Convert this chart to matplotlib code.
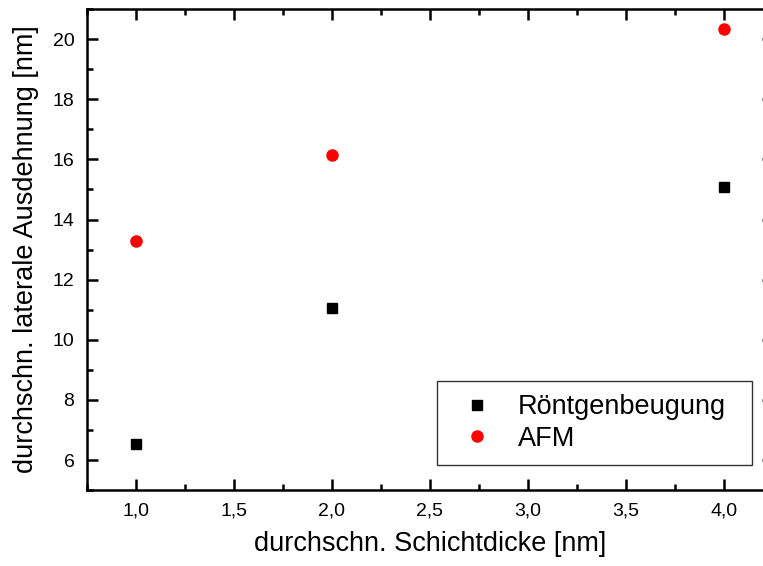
import matplotlib
matplotlib.use('Agg')
from matplotlib import pyplot as plt
from matplotlib.ticker import MultipleLocator, FuncFormatter

plt.rcParams['font.family'] = ['Liberation Sans', 'DejaVu Sans']

schichtdicke = [1.0, 2.0, 4.0]
roentgen = [6.52, 11.07, 15.08]
afm = [13.3, 16.14, 20.35]

fig = plt.figure(figsize=(7.63, 5.66), dpi=100)
# right edge of the axes lies outside the picture, like in the original
ax = fig.add_axes([0.114, 0.134, 0.899, 0.850])

ax.plot(schichtdicke, roentgen, 's', color='black', markersize=7.5, label='Röntgenbeugung')
ax.plot(schichtdicke, afm, 'o', color='red', markersize=8, label='AFM')

ax.set_xlim(0.75, 4.25)
ax.set_ylim(5, 21)
ax.xaxis.set_major_locator(MultipleLocator(0.5))
ax.xaxis.set_minor_locator(MultipleLocator(0.25))
ax.yaxis.set_major_locator(MultipleLocator(2))
ax.yaxis.set_minor_locator(MultipleLocator(1))
ax.xaxis.set_major_formatter(FuncFormatter(lambda v, p: ('%.1f' % v).replace('.', ',')))
ax.yaxis.set_major_formatter(FuncFormatter(lambda v, p: '%d' % v))

for s in ax.spines.values():
    s.set_linewidth(1.8)
ax.tick_params(which='both', direction='in', top=True, right=True, width=1.8, labelsize=14)
ax.tick_params(which='major', length=8, pad=9)
ax.tick_params(which='minor', length=4)

ax.set_xlabel('durchschn. Schichtdicke [nm]', fontsize=19.5, labelpad=8)
ax.set_ylabel('durchschn. laterale Ausdehnung [nm]', fontsize=19.5, labelpad=10)

leg = ax.legend(loc='upper left', bbox_to_anchor=(0.510, 0.058, 0.459, 0.169), mode='expand',
                borderaxespad=0, fontsize=19.5, frameon=True, fancybox=False, edgecolor='black',
                handletextpad=0.53, borderpad=0.5, labelspacing=0.2, handlelength=1.96)
leg.get_frame().set_linewidth(1.0)

plt.savefig('out.png', dpi=100)
